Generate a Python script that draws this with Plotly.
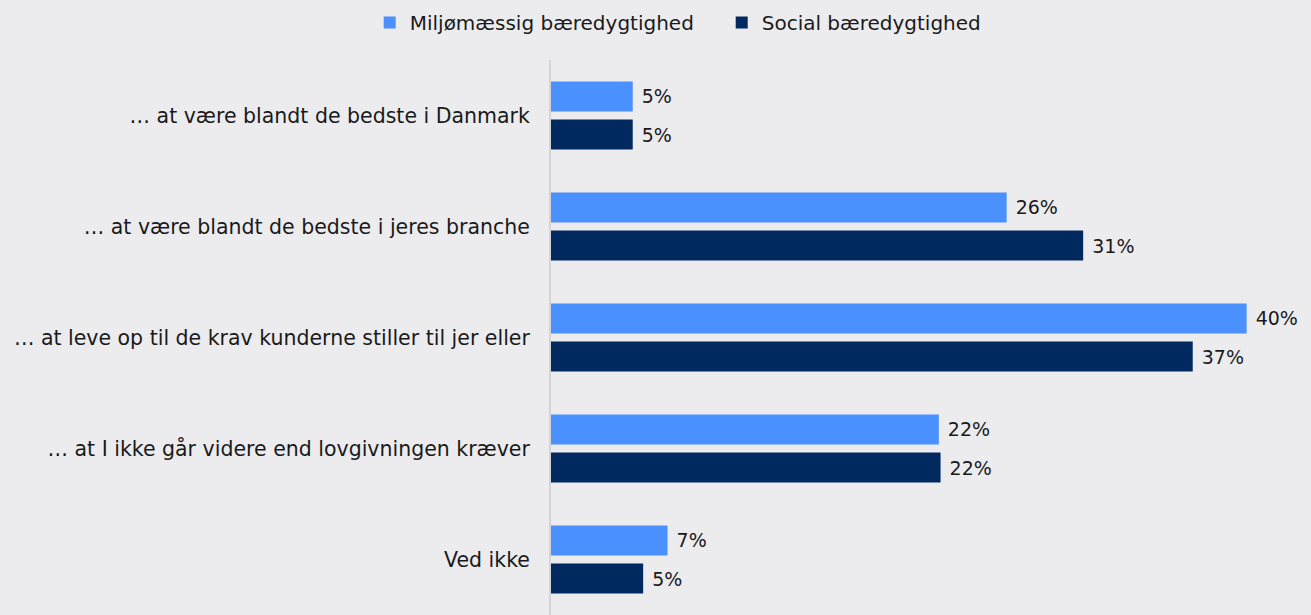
import plotly.graph_objects as go

categories = [
    "… at være blandt de bedste i Danmark",
    "… at være blandt de bedste i jeres branche",
    "… at leve op til de krav kunderne stiller til jer eller",
    "… at I ikke går videre end lovgivningen kræver",
    "Ved ikke",
]
miljo = [4.7, 26.2, 40.0, 22.3, 6.7]
social = [4.7, 30.6, 36.9, 22.4, 5.3]
series_names = ["Miljømæssig bæredygtighed", "Social bæredygtighed"]
colors = ["#4A90FF", "#002960"]

FONT = "DejaVu Sans, sans-serif"

fig = go.Figure()
for name, vals, col in zip(series_names, [miljo, social], colors):
    fig.add_trace(go.Bar(
        y=categories, x=vals, name=name, orientation="h",
        marker=dict(color=col, line=dict(width=0)),
        text=vals, texttemplate="\u00a0%{x:.0f}%", textposition="outside",
        textfont=dict(size=19, color="#1a1a1a", family=FONT),
        cliponaxis=False,
    ))

fig.update_layout(
    width=1311, height=615,
    paper_bgcolor="#ECECEF", plot_bgcolor="#ECECEF",
    font=dict(family=FONT, size=18, color="#1a1a1a"),
    barmode="group", bargap=0.315, bargroupgap=0.21,
    margin=dict(l=551, r=0, t=60, b=0, autoexpand=False),
    showlegend=True,
    legend=dict(orientation="h", x=0.282, xanchor="left", xref="container",
                y=0.995, yanchor="top", yref="container",
                font=dict(size=20, family=FONT), traceorder="normal",
                entrywidth=307, entrywidthmode="pixels", itemwidth=30),
    xaxis=dict(range=[0, 43.7], visible=False, showgrid=False, zeroline=False),
    yaxis=dict(categoryorder="array", categoryarray=categories, autorange="reversed",
               showline=True, linecolor="#D3D3D8", linewidth=2, ticks="",
               ticklabelstandoff=15, showgrid=False, automargin=False,
               tickfont=dict(size=20.5, family=FONT, color="#1a1a1a")),
)
fig.write_html("out.html", config={"displayModeBar": False},
               post_script="document.body.style.margin='0';document.body.style.overflow='hidden';")
